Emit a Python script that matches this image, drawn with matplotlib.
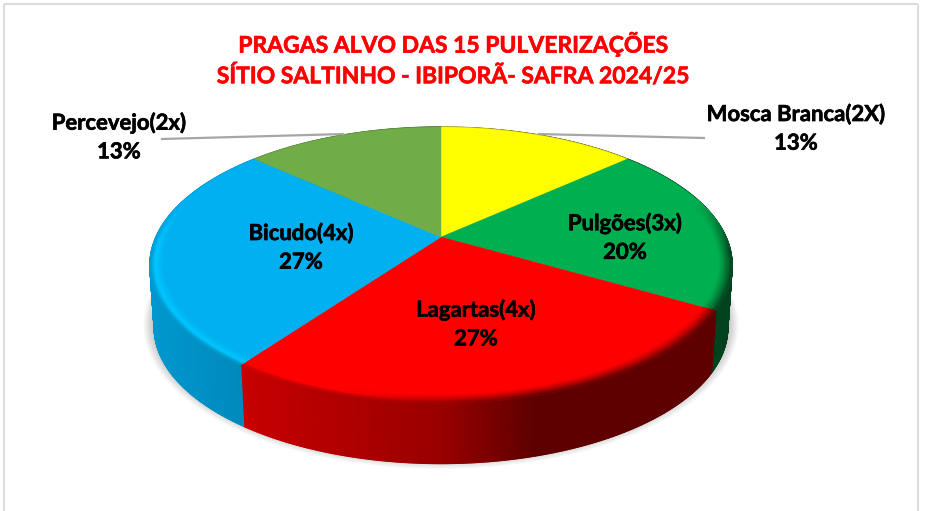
import numpy as np
import matplotlib
matplotlib.use("Agg")
import matplotlib.pyplot as plt
import matplotlib.patheffects as pe
from matplotlib.collections import PolyCollection
from matplotlib.colors import to_rgb

plt.rcParams['font.family'] = ['Lato', 'DejaVu Sans']

# Data
names = ['Mosca Branca(2X)', 'Pulgões(3x)', 'Lagartas(4x)', 'Bicudo(4x)', 'Percevejo(2x)']
values = [2, 3, 4, 4, 2]
colors = ['#FFFF00', '#00B050', '#FF0000', '#00B0F0', '#70AD47']
title_lines = ['PRAGAS ALVO DAS 15 PULVERIZAÇÕES', 'SÍTIO SALTINHO - IBIPORÃ- SAFRA 2024/25']

# Label layout (pixel space of the canvas)
label_pos = [(796, 128.5), (625, 237.5), (476, 324), (301, 247.5), (119, 137)]
leader_end = {0: (704, 138), 4: (162, 139)}

# Projection of the pie
CX, CY, AX, BY, K = 441.0, 237.0, 285.0, 132.3, 0.203
DEPTH, LOW_SCALE = 63.0, 0.985


def project(theta, r=1.0, low=False):
    """theta is clockwise from 12 o'clock, radians; returns canvas x, y."""
    X, Y = r * np.sin(theta), r * np.cos(theta)
    w = 1 + K * Y
    sx, sy = AX * X / w, BY * Y / w
    if low:
        return CX + LOW_SCALE * sx, CY + DEPTH - LOW_SCALE * sy
    return CX + sx, CY - sy


def side_shade(x):
    n = (x - CX) / 292.0
    return np.interp(n, [-1, -0.68, 0, 0.32, 1], [0.86, 0.78, 0.60, 0.37, 0.37])


fig = plt.figure(figsize=(9.25, 5.11), dpi=100, facecolor='white')
ax = fig.add_axes([0, 0, 1, 1])
ax.set_xlim(0, 925)
ax.set_ylim(511, 0)
ax.axis('off')

# Chart frame
for xs, ys in [((3.5, 3.5), (511, 4.5)), ((3.5, 918), (4.5, 4.5)), ((918, 918), (4.5, 511))]:
    ax.plot(xs, ys, color='#dcdcdc', lw=1.5, zorder=0, solid_capstyle='butt')

total = sum(values)
edges = 2 * np.pi * np.cumsum([0] + values) / total

# Soft shadow below the pie
tt = np.linspace(0, 2 * np.pi, 361)
for grow in np.linspace(11, 1, 10):
    sx, sy = project(tt, low=True)
    px = CX + (sx - CX) * (1 + grow / 290.0)
    py = CY + DEPTH - 4 + (sy - CY - DEPTH) * (1 + grow / 190.0)
    ax.fill(px, py, color='black', alpha=0.022, lw=0, zorder=1)

# Sides
for i, col in enumerate(colors):
    base = np.array(to_rgb(col))
    th = np.linspace(edges[i], edges[i + 1], values[i] * 90 + 1)
    xt, yt = project(th)
    xl, yl = project(th[::-1], low=True)
    ax.fill(np.r_[xt, xl], np.r_[yt, yl], color=base * side_shade(xt.mean()), lw=0, zorder=2)
    polys, cols = [], []
    for a, b in zip(th[:-1], th[1:]):
        x0, y0 = project(a)
        x1, y1 = project(b)
        x2, y2 = project(b, low=True)
        x3, y3 = project(a, low=True)
        polys.append([(x0, y0), (x1, y1), (x2, y2), (x3, y3)])
        cols.append(base * side_shade(0.5 * (x0 + x1)))
    ax.add_collection(PolyCollection(polys, facecolors=cols, edgecolors=cols, linewidths=1.0, zorder=2))

# Top faces
for i, col in enumerate(colors):
    th = np.linspace(edges[i], edges[i + 1], values[i] * 30)
    x, y = project(th, 1.0)
    ax.fill(np.r_[CX, x], np.r_[CY, y], color=col, lw=0.3, zorder=3)

# Bevel on the rim of the top faces
rings = np.linspace(0.955, 1.0, 12)
for i, col in enumerate(colors):
    base = np.array(to_rgb(col))
    th = np.linspace(edges[i], edges[i + 1], values[i] * 40)
    polys, cols = [], []
    for r0, r1 in zip(rings[:-1], rings[1:]):
        t = (0.5 * (r0 + r1) - rings[0]) / (rings[-1] - rings[0])
        for a, b in zip(th[:-1], th[1:]):
            m = 0.5 * (a + b)
            if np.cos(m) > 0.3:
                continue
            fade = np.clip((0.3 - np.cos(m)) / 0.4, 0, 1)
            xm, _ = project(m)
            n = (xm - CX) / 292.0
            dark = base * side_shade(xm)
            right = base + (dark - base) * t ** 1.3
            light = np.clip(base + 0.09 * (base > 0.1), 0, 1)
            if t < 0.65:
                left = base + (light - base) * t / 0.65
            else:
                left = light + (dark - light) * (t - 0.65) / 0.35
            h = np.clip((-n - 0.05) / 0.3, 0, 1)
            c = right * (1 - h) + left * h
            c = base + (c - base) * fade
            polys.append([project(a, r0), project(b, r0), project(b, r1), project(a, r1)])
            cols.append(np.clip(c, 0, 1))
    ax.add_collection(PolyCollection(polys, facecolors=cols, edgecolors=cols, linewidths=0.5, zorder=4))

# Leader lines and labels
embolden = [pe.withStroke(linewidth=0.45, foreground='black')]
for i, name in enumerate(names):
    pct = 100 * values[i] / total
    ax.text(*label_pos[i], f"{name}\n{pct:.0f}%", ha='center', va='center', color='black',
            fontsize=15.9, fontweight='bold', linespacing=1.45, zorder=6, path_effects=embolden)
    if i in leader_end:
        mid = 0.5 * (edges[i] + edges[i + 1])
        sx, sy = project(mid)
        ex, ey = leader_end[i]
        ax.plot([sx, ex], [sy - 1, ey], color='#a6a6a6', lw=1.6, zorder=5)

# Title
embolden_r = [pe.withStroke(linewidth=0.45, foreground='#FF0000')]
for line, yy in zip(title_lines, (44, 76)):
    ax.text(453, yy, line, ha='center', va='center', color='#FF0000', fontsize=16.5,
            fontweight='bold', zorder=6, path_effects=embolden_r)

fig.savefig('out.png', dpi=100, facecolor='white')
